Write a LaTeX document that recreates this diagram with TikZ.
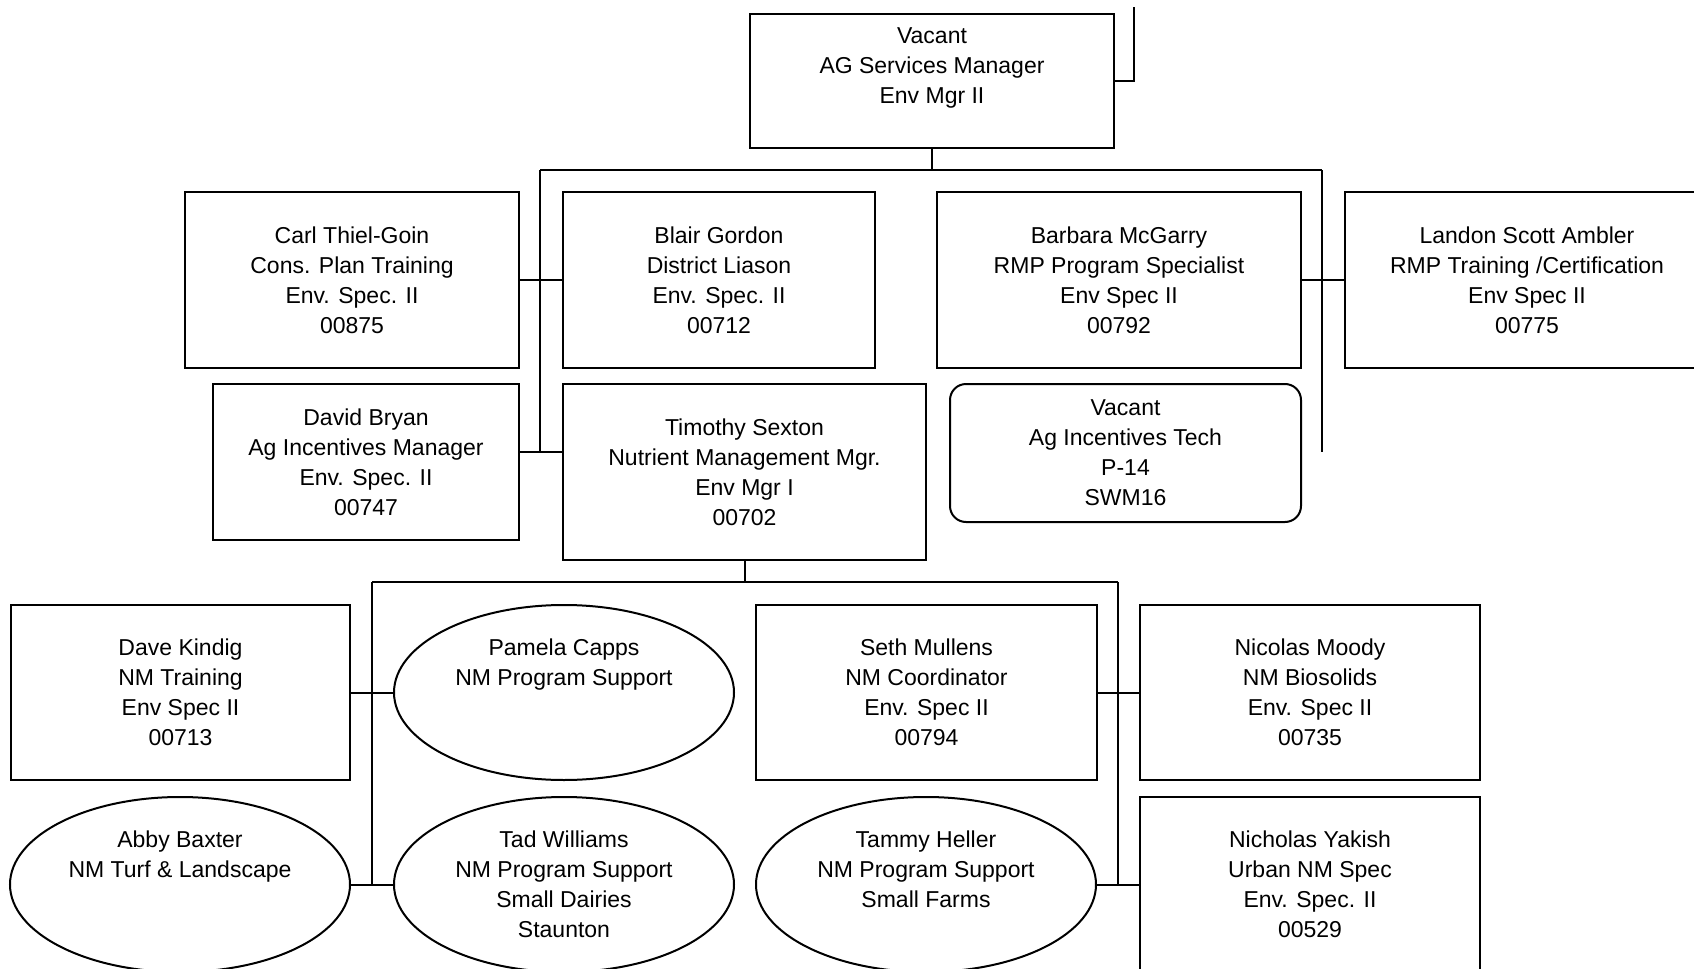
\documentclass[tikz,border=0pt]{standalone}
\usepackage{fontspec}
\setmainfont{Liberation Sans}
\usetikzlibrary{shapes.geometric}

\tikzset{
  post/.style={draw, rectangle, line width=1pt, align=center, inner sep=0pt,
    font=\fontsize{11.5}{15}\selectfont},
  vacancy/.style={post, rounded corners=8pt},
  support/.style={post, ellipse},
  link/.style={line width=1pt}
}

\begin{document}
\begin{tikzpicture}[x=0.5pt, y=-0.5pt]
        \clip (0,0) rectangle (1694,969);

        \node[post, minimum width=182pt, minimum height=67pt] (mgr) at (932,81) {Vacant\\AG Services Manager\\Env Mgr II\\~};

        \node[post, minimum width=167pt, minimum height=88pt] (carl) at (352,280) {Carl Thiel-Goin\\Cons. Plan Training\\Env. Spec. II\\00875};
        \node[post, minimum width=156pt, minimum height=88pt] (blair) at (719,280) {Blair Gordon\\District Liason\\Env. Spec. II\\00712};
        \node[post, minimum width=182pt, minimum height=88pt] (barbara) at (1119,280) {Barbara McGarry\\RMP Program Specialist\\Env Spec II\\00792};
        \node[post, minimum width=182pt, minimum height=88pt] (landon) at (1527,280) {Landon Scott Ambler\\RMP Training /Certification\\Env Spec II\\00775};
        \node[post, minimum width=153pt, minimum height=78pt] (david) at (366,462) {David Bryan\\Ag Incentives Manager\\Env. Spec. II\\00747};
        \node[post, minimum width=181.5pt, minimum height=88pt] (timothy) at (744.5,472) {Timothy Sexton\\Nutrient Management Mgr.\\Env Mgr I\\00702};
        \node[vacancy, minimum width=175.5pt, minimum height=69pt] (tech) at (1125.5,453) {Vacant\\Ag Incentives Tech\\P-14\\SWM16};

        \node[post, minimum width=169.5pt, minimum height=87.5pt] (kindig) at (180.5,692.5) {Dave Kindig\\NM Training\\Env Spec II\\00713};
        \node[support, minimum width=170pt, minimum height=87.5pt] (pamela) at (564,692.5) {Pamela Capps\\NM Program Support\\~\\~};
        \node[post, minimum width=170.5pt, minimum height=87.5pt] (seth) at (926.5,692.5) {Seth Mullens\\NM Coordinator\\Env. Spec II\\00794};
        \node[post, minimum width=170pt, minimum height=87.5pt] (moody) at (1310,692.5) {Nicolas Moody\\NM Biosolids\\Env. Spec II\\00735};
        \node[support, minimum width=170pt, minimum height=87.5pt] (abby) at (180,884.5) {Abby Baxter\\NM Turf \& Landscape\\~\\~};
        \node[support, minimum width=170pt, minimum height=87.5pt] (tad) at (564,884.5) {Tad Williams\\NM Program Support\\Small Dairies\\Staunton};
        \node[support, minimum width=170pt, minimum height=87.5pt] (tammy) at (926,884.5) {Tammy Heller\\NM Program Support\\Small Farms\\~};
        \node[post, minimum width=170pt, minimum height=87.5pt] (yakish) at (1310,884.5) {Nicholas Yakish\\Urban NM Spec\\Env. Spec. II\\00529};

        \coordinate (up) at (1134,7);
        \coordinate (busL) at (540,170);
        \coordinate (busR) at (1322,170);
        \coordinate (tie) at (540,452);
        \coordinate (nmL) at (372,582);
        \coordinate (nmR) at (1118,582);

        \draw[link] (mgr.east) -| (up);
        \draw[link] (mgr.south) -- (mgr.south |- busL);
        \draw[link] (busL) -- (busR);
        \draw[link] (busL) -- (tie);
        \draw[link] (busR) -- (busR |- tie);
        \path[link] (carl) edge (blair);
        \draw[link] (tie -| david.east) -- (tie -| timothy.west);
        \path[link] (barbara) edge (landon);

        \draw[link] (timothy.south) -- (timothy.south |- nmL);
        \draw[link] (nmL) -- (nmR);
        \draw[link] (nmL) -- (nmL |- abby.east);
        \draw[link] (nmR) -- (nmR |- tammy.east);
        \path[link] (kindig) edge (pamela);
        \path[link] (abby) edge (tad);
        \path[link] (seth) edge (moody);
        \path[link] (tammy) edge (yakish);
      \end{tikzpicture}
\end{document}
